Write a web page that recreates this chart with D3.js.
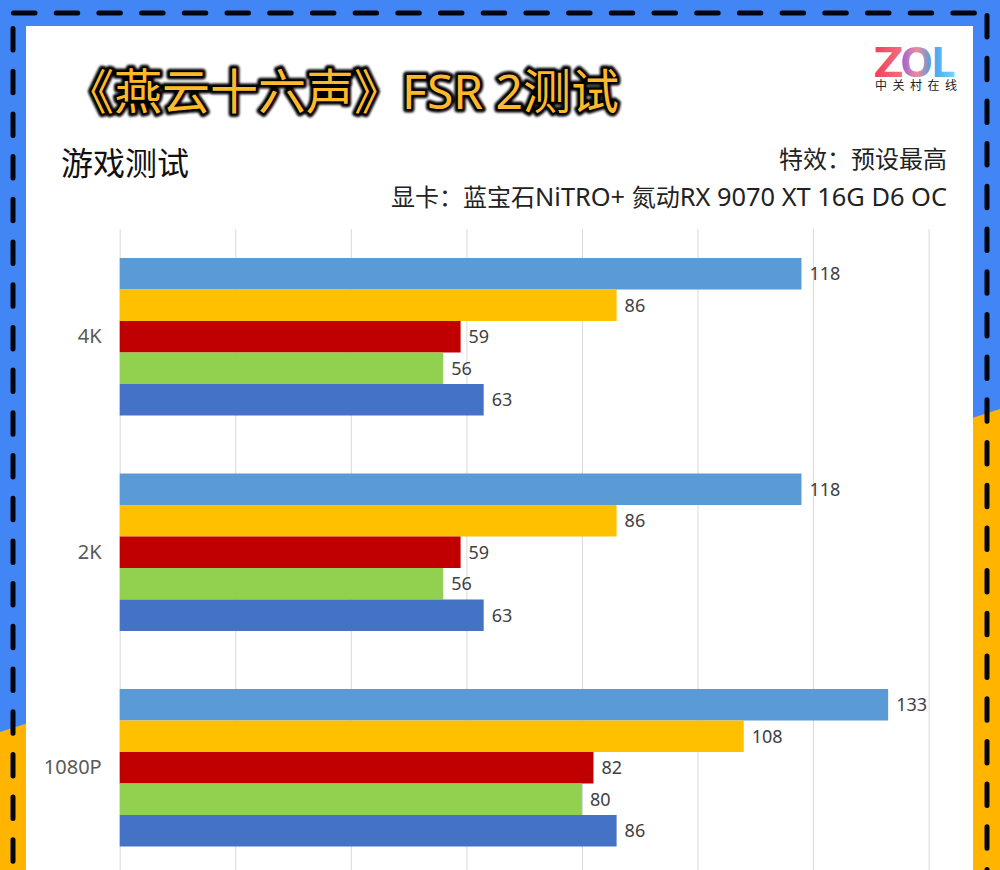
<!DOCTYPE html>
<html>
<head>
<meta charset="utf-8">
<script src="https://cdn.jsdelivr.net/npm/d3@7"></script>
<style>
  html, body { margin: 0; padding: 0; background: #fff; overflow: hidden; }
  svg { display: block; }
  text { font-family: "Noto Sans", "Noto Sans CJK SC", sans-serif; }
</style>
</head>
<body>
<div id="chart"></div>
<script>
const categories = ["4K", "2K", "1080P"];
const seriesA = [118, 118, 133];
const seriesB = [86, 86, 108];
const seriesC = [59, 59, 82];
const seriesD = [56, 56, 80];
const seriesE = [63, 63, 86];
const allSeries = [seriesA, seriesB, seriesC, seriesD, seriesE];
const seriesColors = ["#5b9bd5", "#ffc000", "#c00000", "#92d050", "#4472c4"];
const xTicks = [0, 20, 40, 60, 80, 100, 120, 140];

const width = 1000, height = 870;
const panel = { left: 26, right: 973, top: 26 };
const plot = { left: 119.7, right: 928.6, top: 229, bottom: 875.5 };

const svg = d3.select("#chart")
  .append("svg")
  .attr("width", width)
  .attr("height", height);

const defs = svg.append("defs");

const glow = defs.append("filter").attr("id", "glow")
  .attr("x", "-5%").attr("y", "-20%").attr("width", "110%").attr("height", "140%");
glow.append("feGaussianBlur").attr("stdDeviation", 1.2);

function gradient(id, stops) {
  const g = defs.append("linearGradient").attr("id", id)
    .attr("x1", 0).attr("x2", 1).attr("y1", 0).attr("y2", 0);
  stops.forEach(s => g.append("stop").attr("offset", s[0]).attr("stop-color", s[1]));
}
gradient("zolZ", [[0, "#ef3f5c"], [1, "#f5707f"]]);
gradient("zolO", [[0, "#8d5fe0"], [0.5, "#f08a9c"], [1, "#3f9fe8"]]);
gradient("zolL", [[0, "#3f9ff0"], [1, "#7fd4fb"]]);

// background frame
svg.append("rect").attr("width", width).attr("height", height).attr("fill", "#4285f4");
svg.append("path")
  .attr("d", "M0,732L1000,409L1000,870L0,870Z")
  .attr("fill", "#ffb400");
svg.append("rect")
  .attr("x", panel.left).attr("y", panel.top)
  .attr("width", panel.right - panel.left).attr("height", height - panel.top)
  .attr("fill", "#fff");

const dashes = [
  [13.5, 13, 985, 13],
  [13, 28.5, 13, height + 20],
  [987, 15.5, 987, height + 20]
];
svg.selectAll(".dash")
  .data(dashes)
  .enter()
  .append("line")
  .attr("class", "dash")
  .attr("x1", d => d[0]).attr("y1", d => d[1])
  .attr("x2", d => d[2]).attr("y2", d => d[3])
  .attr("stroke", "#050510")
  .attr("stroke-width", 5)
  .attr("stroke-linecap", "round")
  .attr("stroke-dasharray", "21.5 21.2");

// scales
const xScale = d3.scaleLinear()
  .domain([0, 140])
  .range([plot.left, plot.right]);

const yScale = d3.scaleBand()
  .domain(categories)
  .range([plot.top, plot.bottom]);

const barScale = d3.scaleBand()
  .domain(d3.range(allSeries.length))
  .range([29, yScale.bandwidth() - 29]);

// gridlines
const grid = svg.append("g")
  .attr("transform", `translate(0, ${plot.top})`)
  .call(d3.axisBottom(xScale).tickValues(xTicks).tickSize(height - plot.top).tickFormat(""));
grid.select(".domain").remove();
grid.selectAll("line").attr("stroke", "#d9d9d9");

// bars
const groups = svg.selectAll(".series")
  .data(allSeries)
  .enter()
  .append("g")
  .attr("class", "series")
  .attr("fill", (d, i) => seriesColors[i]);

groups.each(function (values, s) {
  const g = d3.select(this);
  g.selectAll("rect")
    .data(values)
    .enter()
    .append("rect")
    .attr("x", xScale(0))
    .attr("y", (d, i) => yScale(categories[i]) + barScale(s))
    .attr("width", d => xScale(d) - xScale(0))
    .attr("height", barScale.bandwidth());

  g.selectAll("text")
    .data(values)
    .enter()
    .append("text")
    .attr("x", d => xScale(d) + 8)
    .attr("y", (d, i) => yScale(categories[i]) + barScale(s) + barScale.bandwidth() / 2)
    .attr("dy", "0.36em")
    .attr("fill", "#404040")
    .style("font-size", "18px")
    .text(d => d);
});

// category labels
const yAxis = svg.append("g")
  .attr("transform", `translate(${plot.left}, 0)`)
  .call(d3.axisLeft(yScale).tickSize(0).tickPadding(18));
yAxis.select(".domain").remove();
yAxis.selectAll("text")
  .attr("fill", "#595959")
  .style("font-size", "20px")
  .style("font-family", '"Noto Sans", "Noto Sans CJK SC", sans-serif');

// title block
svg.append("text")
  .attr("x", 66).attr("y", 109)
  .attr("fill", "none")
  .attr("stroke", "#000")
  .attr("stroke-width", 7)
  .attr("stroke-linejoin", "round")
  .attr("filter", "url(#glow)")
  .style("font-size", "48px")
  .text("《燕云十六声》FSR 2测试");

svg.append("text")
  .attr("x", 66).attr("y", 109)
  .attr("fill", "#fdb92a")
  .style("font-size", "48px")
  .text("《燕云十六声》FSR 2测试");

svg.append("text")
  .attr("x", 61).attr("y", 175)
  .attr("fill", "#111")
  .style("font-size", "32px")
  .text("游戏测试");

svg.append("text")
  .attr("x", 947).attr("y", 168)
  .attr("text-anchor", "end")
  .attr("fill", "#222")
  .style("font-size", "24px")
  .text("特效：预设最高");

// latin parts of this line run a bit larger than the chinese ones
const cardParts = [
  ["显卡：蓝宝石", 24], ["NiTRO+ ", 25.4], ["氮动", 24], ["RX 9070 XT 16G D6 OC", 25.4]
];
svg.append("text")
  .attr("x", 947).attr("y", 206)
  .attr("text-anchor", "end")
  .attr("fill", "#222")
  .selectAll("tspan")
  .data(cardParts)
  .enter()
  .append("tspan")
  .style("font-size", d => d[1] + "px")
  .text(d => d[0]);

// logo
const logoLetters = [
  { t: "Z", x: 874, sx: 1.2, fill: "url(#zolZ)" },
  { t: "O", x: 900, sx: 1.0, fill: "url(#zolO)" },
  { t: "L", x: 931, sx: 1.05, fill: "url(#zolL)" }
];
svg.selectAll(".logo")
  .data(logoLetters)
  .enter()
  .append("text")
  .attr("class", "logo")
  .attr("transform", d => `translate(${d.x}, 77) scale(${d.sx}, 1)`)
  .attr("fill", d => d.fill)
  .style("font-weight", "bold")
  .style("font-size", "42px")
  .text(d => d.t);

svg.append("text")
  .attr("x", 875).attr("y", 90)
  .attr("fill", "#222")
  .style("font-size", "12px")
  .style("letter-spacing", "5.5px")
  .text("中关村在线");
</script>
</body>
</html>
